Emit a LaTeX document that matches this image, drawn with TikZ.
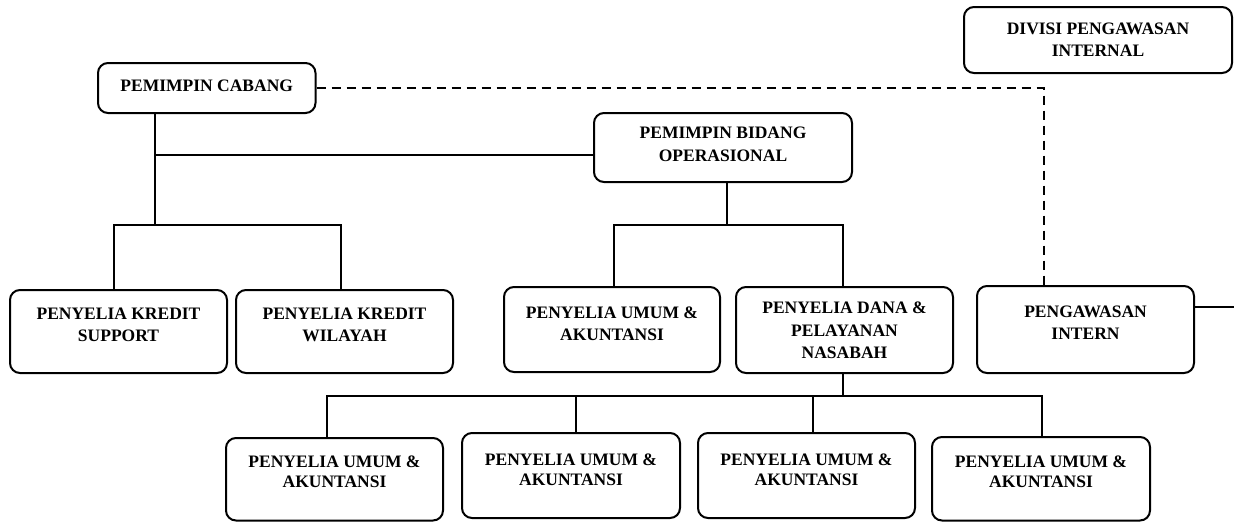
\documentclass[tikz,border=0pt]{standalone}
\usepackage{fontspec}
\setmainfont{Liberation Serif}
\begin{document}
\begin{tikzpicture}[x=1pt,y=-1pt,
  box/.style={draw,line width=2pt,rounded corners=10pt,inner sep=0pt,fill=white},
  lbl/.style={align=center,inner sep=0pt,font=\bfseries\fontsize{17.5}{22.5}\selectfont},
  lblb/.style={lbl,font=\bfseries\fontsize{17.5}{20.5}\selectfont},
  conn/.style={line width=2pt},
  dconn/.style={line width=2pt,dash pattern=on 9pt off 6pt}]
\useasboundingbox[fill=white] (0,0) rectangle (1234,522);
% boxes
\node[box,minimum width=217.5pt,minimum height=50pt] (pc) at (206.75,88) {};
\node[box,minimum width=268pt,minimum height=66pt] (div) at (1098,40) {};
\node[box,minimum width=258pt,minimum height=69pt] (pbo) at (723,147.5) {};
\node[box,minimum width=217pt,minimum height=83pt] (pks) at (118.5,331.5) {};
\node[box,minimum width=217pt,minimum height=83pt] (pkw) at (344.5,331.5) {};
\node[box,minimum width=216pt,minimum height=85pt] (pua) at (612,329.5) {};
\node[box,minimum width=217pt,minimum height=86pt] (pdpn) at (844.5,330) {};
\node[box,minimum width=217pt,minimum height=87pt] (pi) at (1085.5,329.5) {};
\node[box,minimum width=217pt,minimum height=82.5pt] (b1) at (334.5,479.25) {};
\node[box,minimum width=218pt,minimum height=85pt] (b2) at (571,475.5) {};
\node[box,minimum width=217pt,minimum height=85pt] (b3) at (806.5,475.5) {};
\node[box,minimum width=218pt,minimum height=83.5pt] (b4) at (1041,478.75) {};
% texts
\node[lbl] (pc-t) at (206.75,85.5) {PEMIMPIN CABANG};
\node[lbl] (div-t) at (1098,39.5) {DIVISI PENGAWASAN\\INTERNAL};
\node[lbl] (pbo-t) at (723,144.5) {PEMIMPIN BIDANG\\OPERASIONAL};
\node[lbl] (pks-t) at (118.5,325) {PENYELIA KREDIT\\SUPPORT};
\node[lbl] (pkw-t) at (344.5,325) {PENYELIA KREDIT\\WILAYAH};
\node[lbl] (pua-t) at (612,324) {PENYELIA UMUM \&\\AKUNTANSI};
\node[lbl] (pdpn-t) at (844.5,330.5) {PENYELIA DANA \&\\PELAYANAN\\NASABAH};
\node[lbl] (pi-t) at (1085.5,322.5) {PENGAWASAN\\INTERN};
\node[lblb] (b1-t) at (334.5,472) {PENYELIA UMUM \&\\AKUNTANSI};
\node[lblb] (b2-t) at (571,470) {PENYELIA UMUM \&\\AKUNTANSI};
\node[lblb] (b3-t) at (806.5,470) {PENYELIA UMUM \&\\AKUNTANSI};
\node[lblb] (b4-t) at (1041,472) {PENYELIA UMUM \&\\AKUNTANSI};
% connectors
\coordinate (s1) at (155,155);
\coordinate (s2) at (155,225);
\draw[conn] (pc.south -| s1) -- (s2);
\draw[conn] (s1) -- (s1 -| pbo.west);
\coordinate (k1) at (114,225);
\coordinate (k2) at (341,225);
\draw[conn] (pks.north -| k1) -- (k1) -- (k2) -- (pkw.north -| k2);
\coordinate (o1) at (727,225);
\coordinate (o2) at (614,225);
\coordinate (o3) at (843,225);
\draw[conn] (pbo.south -| o1) -- (o1);
\draw[conn] (pua.north -| o2) -- (o2) -- (o3) -- (pdpn.north -| o3);
\coordinate (d0) at (843,396);
\coordinate (d1) at (327,396);
\coordinate (d2) at (576,396);
\coordinate (d3) at (813,396);
\coordinate (d4) at (1042,396);
\draw[conn] (pdpn.south -| d0) -- (d0);
\draw[conn] (b1.north -| d1) -- (d1) -- (d4) -- (b4.north -| d4);
\draw[conn] (d2) -- (b2.north -| d2);
\draw[conn] (d3) -- (b3.north -| d3);
\coordinate (dc) at (1044,88);
\draw[dconn] (pc.east |- dc) -- (dc) -- (pi.north -| dc);
\coordinate (e) at (1234,307);
\draw[conn] (pi.east |- e) -- (e);
\end{tikzpicture}
\end{document}
